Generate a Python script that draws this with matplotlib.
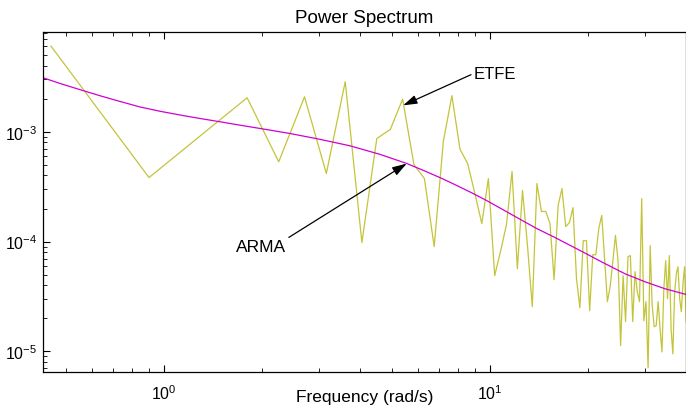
import matplotlib
matplotlib.use("Agg")
import matplotlib.pyplot as plt
import numpy as np

plt.rcParams['font.family'] = ['Liberation Sans', 'DejaVu Sans']
plt.rcParams['mathtext.fontset'] = 'custom'
plt.rcParams['mathtext.rm'] = 'Liberation Sans'
plt.rcParams['mathtext.it'] = 'Liberation Sans:italic'
plt.rcParams['mathtext.bf'] = 'Liberation Sans:bold'

# ETFE estimate, frequency step 0.45 rad/s
etfe_step = 0.45
etfe_vals = [
    6.03e-3, 3.83e-4, 1.02e-3, 2.04e-3, 5.33e-4, 2.08e-3, 4.17e-4, 2.86e-3, 9.8e-5, 8.69e-4,
    1.05e-3, 1.98e-3, 5.03e-4, 3.75e-4, 9.0e-5, 8.16e-4, 2.13e-3, 6.93e-4, 5.14e-4, 2.74e-4,
    1.46e-4, 3.75e-4, 4.9e-5, 8.3e-5, 1.43e-4, 4.35e-4, 5.67e-5, 2.92e-4, 9.2e-5, 2.56e-5,
    3.38e-4, 1.88e-4, 1.88e-4, 1.46e-4, 4.5e-5, 2.13e-4, 3.04e-4, 1.37e-4, 1.49e-4, 2.04e-4,
    4.6e-5, 2.5e-5, 1.02e-4, 1.02e-4, 2.35e-5, 7.6e-5, 7.6e-5, 1.32e-4, 1.73e-4, 7.0e-5,
    2.84e-5, 3.89e-5, 6.6e-5, 1.14e-4, 6.7e-5, 1.13e-5, 4.9e-5, 1.87e-5, 7.3e-5, 7.45e-5,
    1.87e-5, 5.33e-5, 3.5e-5, 2.84e-5, 2.47e-4, 1.9e-5, 2.84e-5, 7.1e-6, 9.2e-5, 2.61e-5,
    1.68e-5, 1.71e-5, 2.84e-5, 1.61e-5, 9.9e-6, 3.73e-5, 6.7e-5, 3.03e-5, 7.45e-5, 1.61e-5,
    9.5e-6, 3.36e-5, 5.1e-5, 5.9e-5, 3.03e-5, 2.3e-5, 4.14e-5, 5.9e-5, 1.87e-5,
]
etfe_freq = etfe_step * np.arange(1, len(etfe_vals) + 1)

# ARMA model spectrum
arma_freq = [0.4254, 0.4797, 0.5525, 0.6363, 0.7328, 0.844, 0.9721, 1.12, 1.289, 1.485,
             1.711, 2.041, 2.435, 3.01, 3.721, 4.598, 5.565, 6.318, 7.024, 7.808,
             8.683, 9.654, 10.73, 12.36, 13.94, 15.83, 17.6, 19.56, 21.75, 25.95,
             29.89, 34.42, 39.92]
arma_vals = [3.106e-3, 2.754e-3, 2.419e-3, 2.129e-3, 1.889e-3, 1.683e-3, 1.538e-3, 1.422e-3, 1.322e-3, 1.234e-3,
             1.149e-3, 1.054e-3, 9.65e-4, 8.54e-4, 7.455e-4, 6.235e-4, 5.14e-4, 4.392e-4, 3.832e-4, 3.308e-4,
             2.838e-4, 2.415e-4, 2.028e-4, 1.603e-4, 1.314e-4, 1.092e-4, 9.27e-5, 7.89e-5, 6.67e-5, 5.108e-5,
             4.318e-5, 3.728e-5, 3.309e-5]

fig = plt.figure(figsize=(6.86, 4.14), dpi=100)
ax = fig.add_axes([43 / 686, 1 - 373 / 414, 1 - 43 / 686, 340 / 414])

ax.loglog(etfe_freq, etfe_vals, color='#c4c43a', lw=0.9)
ax.loglog(arma_freq, arma_vals, color='#d000d0', lw=0.9)

ax.set_xlim(0.4254, 40)
ax.set_ylim(6.5e-6, 8.1e-3)

ax.set_title('Power Spectrum', fontsize=13.5, pad=7)
ax.set_xlabel('Frequency (rad/s)', fontsize=12.5, labelpad=-9)

ax.tick_params(which='both', direction='in', top=True, right=False, labelsize=11.5, pad=4)
ax.tick_params(axis='x', which='both', pad=8)
ax.tick_params(which='major', length=5, width=0.8)
ax.tick_params(which='minor', length=3, width=0.6)
for s in ax.spines.values():
    s.set_linewidth(0.9)

ax.annotate('ETFE', xy=(5.42, 1.74e-3), xytext=(8.93, 3.4e-3), fontsize=12,
            ha='left', va='center',
            arrowprops=dict(arrowstyle='-|>,head_length=0.7,head_width=0.22', color='black',
                            lw=0.9, shrinkA=0, shrinkB=0, relpos=(0, 0.5)))
ax.annotate('ARMA', xy=(5.56, 5.14e-4), xytext=(1.985, 9.0e-5), fontsize=12.5,
            ha='center', va='center',
            arrowprops=dict(arrowstyle='-|>,head_length=0.7,head_width=0.22', color='black',
                            lw=0.9, shrinkA=0, shrinkB=0, relpos=(1, 1)))

fig.savefig('out.png', dpi=100)
